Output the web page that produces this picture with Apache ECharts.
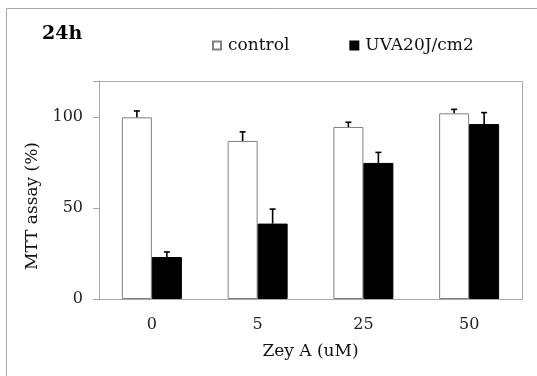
<!DOCTYPE html>
<html>
<head>
<meta charset="utf-8">
<script src="https://cdn.jsdelivr.net/npm/echarts@6/dist/echarts.min.js"></script>
<style>
  html, body { margin: 0; padding: 0; background: #fff; }
  #chart { width: 537px; height: 376px; }
</style>
</head>
<body>
<div id="chart"></div>
<script>
var categories = ['0', '5', '25', '50'];
var controlMean = [100, 87, 94.7, 102.2];
var controlErr = [3.5, 5, 2.6, 2.2];
var uvaMean = [23.1, 41.5, 74.9, 96.3];
var uvaErr = [2.8, 8, 5.8, 6.3];

var serif = 'DejaVu Serif';
var barW = 30;
var frameColor = '#a8a8a8';
var W = 537, H = 376;
var gridBox = { left: 99, right: 15, top: 81, bottom: 77 };

// error bar: upward only, with a small cap
function errorRenderer(means, errs, offset) {
    return function (params, api) {
        var i = api.value(0);
        var base = api.coord([i, means[i]]);
        var top = api.coord([i, means[i] + errs[i]]);
        var x = base[0] + offset;
        return {
            type: 'group',
            children: [
                { type: 'line', shape: { x1: x, y1: base[1], x2: x, y2: top[1] },
                  style: { stroke: '#000', lineWidth: 1.6 } },
                { type: 'line', shape: { x1: x - 3, y1: top[1], x2: x + 3, y2: top[1] },
                  style: { stroke: '#000', lineWidth: 1.6 } }
            ]
        };
    };
}

var idx = categories.map(function (c, i) { return i; });

var option = {
    animation: false,
    backgroundColor: '#fff',
    title: {
        text: '24h',
        left: 42,
        top: 25,
        padding: 0,
        textStyle: { fontFamily: serif, fontSize: 19, fontWeight: 'bold', color: '#000' }
    },
    legend: {
        left: 212,
        top: 37,
        padding: 0,
        icon: 'rect',
        itemWidth: 8,
        itemHeight: 8,
        itemGap: 60,
        data: ['control', 'UVA20J/cm2'],
        textStyle: { fontFamily: serif, fontSize: 17, color: '#111', padding: [0, 0, 0, 2] }
    },
    graphic: [{
        // outer picture frame
        type: 'rect',
        shape: { x: 6.5, y: 8.5, width: 560, height: 400 },
        style: { fill: 'none', stroke: frameColor, lineWidth: 1 },
        silent: true
    }, {
        // plot frame
        type: 'rect',
        shape: {
            x: gridBox.left + 0.5,
            y: gridBox.top + 0.5,
            width: W - gridBox.left - gridBox.right,
            height: H - gridBox.top - gridBox.bottom
        },
        style: { fill: 'none', stroke: frameColor, lineWidth: 1 },
        z: -1,
        silent: true
    }],
    grid: gridBox,
    xAxis: {
        type: 'category',
        data: categories,
        name: 'Zey A (uM)',
        nameLocation: 'middle',
        nameGap: 44,
        nameTextStyle: { fontFamily: serif, fontSize: 17, color: '#111' },
        axisLine: { lineStyle: { color: frameColor } },
        axisTick: { show: false },
        axisLabel: { fontFamily: serif, fontSize: 16, color: '#222', margin: 18 }
    },
    yAxis: {
        type: 'value',
        min: 0,
        max: 120,
        interval: 50,
        name: 'MTT assay (%)',
        nameLocation: 'middle',
        nameGap: 58,
        nameTextStyle: { fontFamily: serif, fontSize: 17, color: '#111', padding: [0, 32, 0, 0] },
        axisLine: { show: true, lineStyle: { color: frameColor } },
        axisTick: { show: true, length: 6, lineStyle: { color: frameColor } },
        splitLine: { show: false },
        axisLabel: { fontFamily: serif, fontSize: 16, color: '#222', margin: 16,
            formatter: function (v) { return v > 100 ? '' : v; } }
    },
    series: [
        {
            name: 'control',
            type: 'bar',
            barWidth: barW,
            barGap: '0%',
            data: controlMean,
            itemStyle: { color: '#fff', borderColor: '#808080', borderWidth: 1 }
        },
        {
            name: 'UVA20J/cm2',
            type: 'bar',
            barWidth: barW,
            barGap: '0%',
            data: uvaMean,
            itemStyle: { color: '#000', borderColor: '#000', borderWidth: 1 }
        },
        {
            type: 'custom',
            renderItem: errorRenderer(controlMean, controlErr, -barW / 2),
            data: idx,
            encode: { x: 0 },
            z: 5,
            silent: true
        },
        {
            type: 'custom',
            renderItem: errorRenderer(uvaMean, uvaErr, barW / 2),
            data: idx,
            encode: { x: 0 },
            z: 5,
            silent: true
        }
    ]
};

var myChart = echarts.init(document.getElementById('chart'));
myChart.setOption(option);
</script>
</body>
</html>
